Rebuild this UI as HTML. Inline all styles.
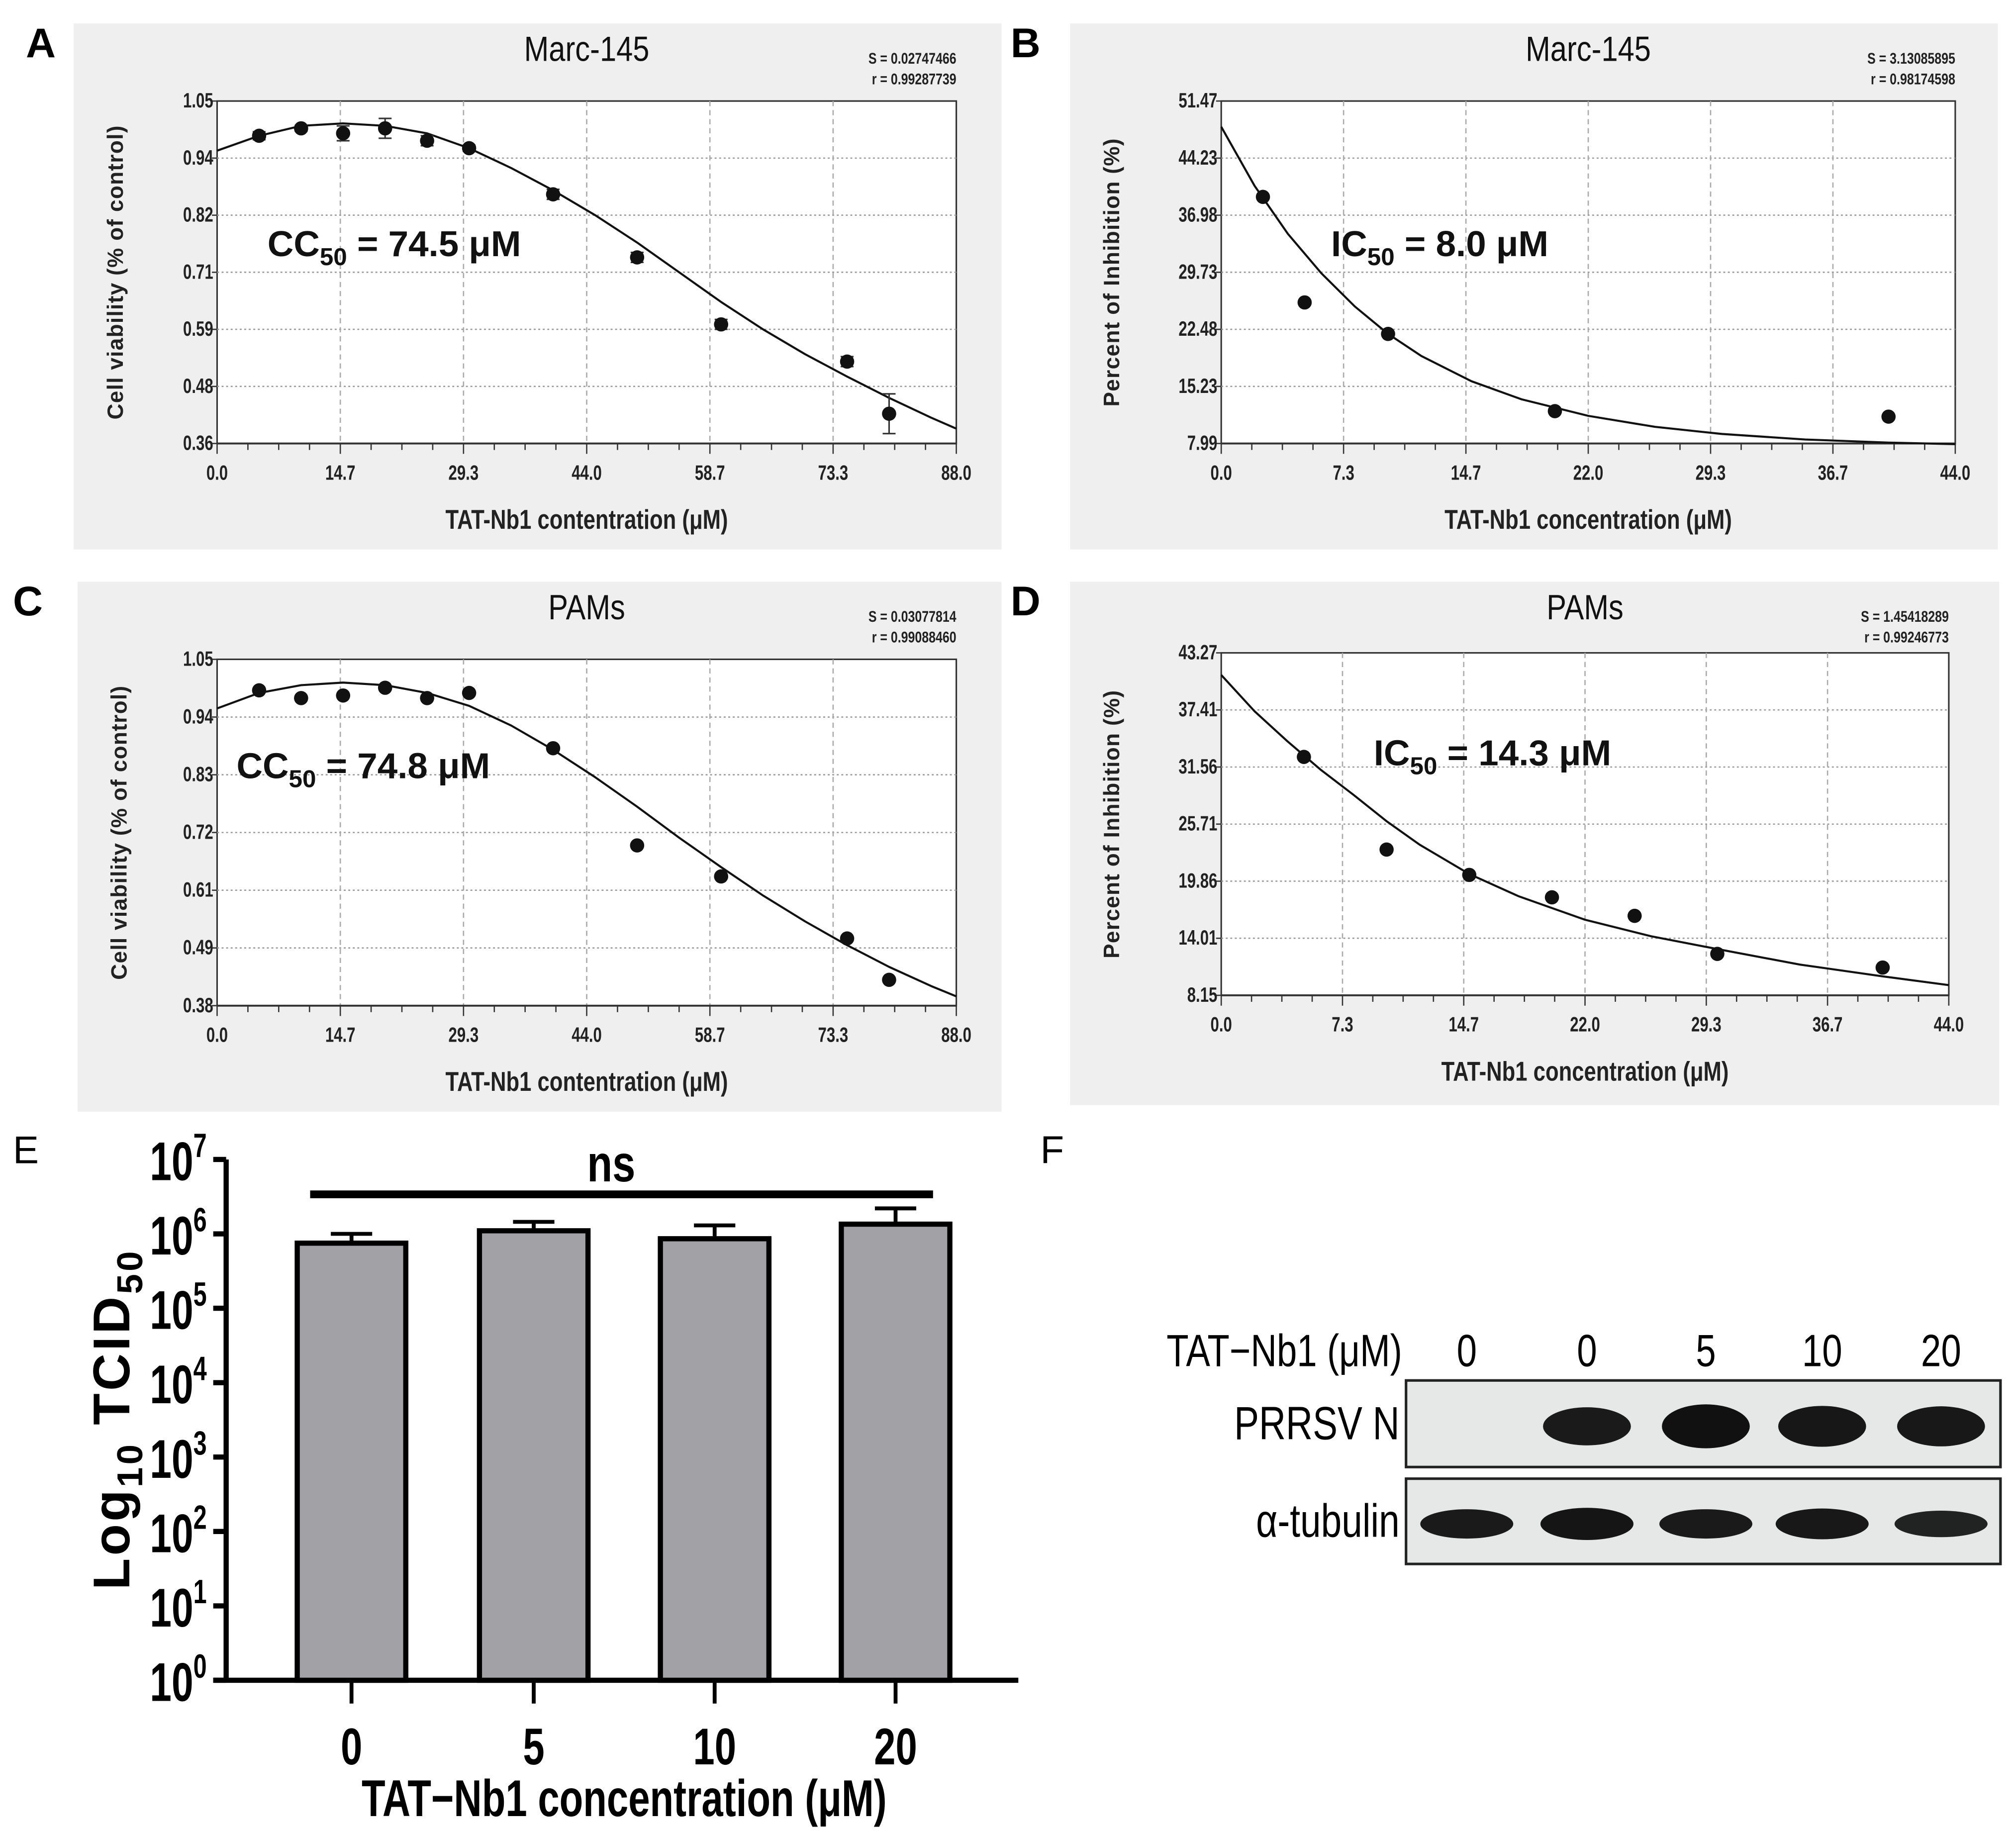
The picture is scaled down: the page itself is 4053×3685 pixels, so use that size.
<!DOCTYPE html>
<html><head><meta charset="utf-8"><style>
html,body{margin:0;padding:0;background:#fff;}
svg{display:block;font-family:"Liberation Sans",sans-serif;}
</style></head><body>
<svg id="fig" width="4053" height="3685" viewBox="0 0 1560 1418" xmlns="http://www.w3.org/2000/svg">
<g id="root"></g>
</svg>
<script>
// ---- Panel A data ----
const aX = [5,10,15,20,25,30,40,50,60,75,80];
const aY = [0.98,0.995,0.985,0.995,0.97,0.955,0.862,0.735,0.60,0.525,0.42];
const aErr = [0.008,0.006,0.015,0.02,0.01,0.006,0.01,0.01,0.01,0.01,0.04];
const aCurveX = [0,5,10,15,20,25,30,35,40,45,50,55,60,65,70,75,80,85,88];
const aCurveY = [0.95,0.98,1.0,1.005,1.0,0.985,0.955,0.915,0.87,0.82,0.765,0.705,0.645,0.59,0.54,0.495,0.452,0.412,0.39];
const aYTicks = ["0.36","0.48","0.59","0.71","0.82","0.94","1.05"];
const aXTicks = ["0.0","14.7","29.3","44.0","58.7","73.3","88.0"];
// ---- Panel B data ----
const bX = [2.5,5,10,20,40];
const bY = [39.3,25.9,21.9,12.1,11.4];
const bCurveX = [0,2,4,6,8,10,12,15,18,22,26,30,35,40,44];
const bCurveY = [48.2,40.7,34.6,29.6,25.4,21.9,19.1,15.9,13.6,11.5,10.1,9.2,8.5,8.1,7.9];
const bYTicks = ["7.99","15.23","22.48","29.73","36.98","44.23","51.47"];
const bXTicks = ["0.0","7.3","14.7","22.0","29.3","36.7","44.0"];
// ---- Panel C data ----
const cX = [5,10,15,20,25,30,40,50,60,75,80];
const cY = [0.99,0.975,0.98,0.995,0.975,0.985,0.878,0.69,0.63,0.51,0.43];
const cCurveX = [0,5,10,15,20,25,30,35,40,45,50,55,60,65,70,75,80,85,88];
const cCurveY = [0.955,0.985,1.0,1.005,1.0,0.985,0.96,0.922,0.875,0.822,0.765,0.705,0.648,0.593,0.543,0.497,0.455,0.418,0.398];
const cYTicks = ["0.38","0.49","0.61","0.72","0.83","0.94","1.05"];
const cXTicks = ["0.0","14.7","29.3","44.0","58.7","73.3","88.0"];
// ---- Panel D data ----
const dX = [5,10,15,20,25,30,40];
const dY = [32.6,23.1,20.5,18.2,16.3,12.4,11.0];
const dCurveX = [0,2,4,6,8,10,12,15,18,22,26,30,35,40,44];
const dCurveY = [41.0,37.3,34.2,31.3,28.7,26.0,23.6,20.6,18.3,15.9,14.2,12.9,11.3,10.1,9.2];
const dYTicks = ["8.15","14.01","19.86","25.71","31.56","37.41","43.27"];
const dXTicks = ["0.0","7.3","14.7","22.0","29.3","36.7","44.0"];
// ---- Panel E data ----
const eCats = ["0","5","10","20"];
const eVals = [7.5e5,1.1e6,8.6e5,1.35e6];
const eErrTop = [1.0e6,1.45e6,1.3e6,2.2e6];
const eYTicks = [0,1,2,3,4,5,6,7];
// ---- Panel F data ----
const fLanes = ["0","0","5","10","20"];
const fNBand = [0,0.85,1,0.92,0.9];
const fTubBand = [0.85,0.95,0.85,0.9,0.75];

const NS="http://www.w3.org/2000/svg";
const root=document.getElementById('root');
function mk(tag,attrs,parent,text){const e=document.createElementNS(NS,tag);for(const k in attrs)e.setAttribute(k,attrs[k]);if(text!==undefined)e.textContent=text;(parent||root).appendChild(e);return e;}
function nt(parent,x,y,str,attrs,sx){const a=Object.assign({},attrs||{});a.x=0;a.y=0;a.transform=`translate(${x},${y}) scale(${sx||0.8},1)`;return mk('text',a,parent,str);}

function panel(o){
  const g=mk('g',{});
  
  
  const bg=mk('rect',{x:o.bg[0],y:o.bg[1],width:o.bg[2],height:o.bg[3],fill:'#efefef'},g);
  
  
  const L=o.plot[0],T=o.plot[1],R=o.plot[2],B=o.plot[3];
  const ymin=parseFloat(o.yt[0]),ymax=parseFloat(o.yt[o.yt.length-1]);
  const xmin=parseFloat(o.xt[0]),xmax=parseFloat(o.xt[o.xt.length-1]);
  const sx=v=>L+(v-xmin)/(xmax-xmin)*(R-L);
  const sy=v=>B-(v-ymin)/(ymax-ymin)*(B-T);
  mk('rect',{x:L,y:T,width:R-L,height:B-T,fill:'#fff',stroke:'#333','stroke-width':1.2},g);
  o.yt.forEach((t,i)=>{const y=B-i*(B-T)/(o.yt.length-1);
    if(i>0&&i<o.yt.length-1)mk('line',{x1:L,x2:R,y1:y,y2:y,stroke:'#999','stroke-width':1,'stroke-dasharray':'1.5,2'},g);
    mk('line',{x1:L-4,x2:L,y1:y,y2:y,stroke:'#333'},g);
    const tl=nt(g,L-3,y+5,t,{'text-anchor':'end','font-size':16,'font-weight':'bold',fill:'#222'},0.75);
    
    
  });
  o.xt.forEach((t,i)=>{const x=L+i*(R-L)/(o.xt.length-1);
    if(i>0&&i<o.xt.length-1)mk('line',{x1:x,x2:x,y1:T,y2:B,stroke:'#aaa','stroke-width':1,'stroke-dasharray':'4,3'},g);
    const tl=nt(g,x,B+28,t,{'text-anchor':'middle','font-size':16,'font-weight':'bold',fill:'#222'},0.75);
    
    
  });
  const nMinor=(o.xt.length-1)*4;
  for(let i=0;i<=nMinor;i++){const x=L+i*(R-L)/nMinor;mk('line',{x1:x,x2:x,y1:B,y2:B+(i%4==0?8:5),stroke:'#333'},g);}
  mk('line',{x1:L,x2:R,y1:B,y2:B,stroke:'#333','stroke-width':1.5},g);
  let d='';o.cx.forEach((v,i)=>{d+=(i?'L':'M')+sx(v).toFixed(1)+','+sy(o.cy[i]).toFixed(1);});
  const c=mk('path',{d:d,fill:'none',stroke:'#111','stroke-width':1.6,'stroke-linejoin':'round'},g);
  
  
  o.px.forEach((v,i)=>{
    if(o.err){const e=o.err[i];const x=sx(v);
      mk('line',{x1:x,x2:x,y1:sy(o.py[i]+e),y2:sy(o.py[i]-e),stroke:'#333','stroke-width':1.2},g);
      mk('line',{x1:x-5,x2:x+5,y1:sy(o.py[i]+e),y2:sy(o.py[i]+e),stroke:'#333','stroke-width':1.2},g);
      mk('line',{x1:x-5,x2:x+5,y1:sy(o.py[i]-e),y2:sy(o.py[i]-e),stroke:'#333','stroke-width':1.2},g);}
    const p=mk('circle',{cx:sx(v),cy:sy(o.py[i]),r:5.5,fill:'#111'},g);
    
    
  });
  const ti=nt(g,(L+R)/2,o.bg[1]+29,o.title,{'text-anchor':'middle','font-size':27,fill:'#111'},0.85);
  
  
  const s1=nt(g,R,o.bg[1]+31,o.s,{'text-anchor':'end','font-size':12,'font-weight':'bold',fill:'#222'},0.8);
  
  
  const s2=nt(g,R,o.bg[1]+47,o.r,{'text-anchor':'end','font-size':12,'font-weight':'bold',fill:'#222'},0.8);
  
  
  const yl=mk('text',{x:0,y:0,transform:`translate(${o.bg[0]+38},${(T+B)/2}) rotate(-90)`,'text-anchor':'middle','font-size':17,'font-weight':'bold',fill:'#222','letter-spacing':0.5},g,o.ylab);
  
  
  const xl=nt(g,(L+R)/2,B+66,o.xlab,{'text-anchor':'middle','font-size':21,'font-weight':'bold',fill:'#222'},0.8);
  
  
  const an=mk('text',{x:o.ann[0],y:o.ann[1],'font-size':28,'font-weight':'bold',fill:'#111'},g);
  
  
  mk('tspan',{},an,o.ann[2]);mk('tspan',{dy:7,'font-size':19},an,'50');mk('tspan',{dy:-7},an,o.ann[3]);
  const lt=mk('text',{x:o.letter[0],y:o.letter[1],'font-size':32,'font-weight':'bold',fill:'#000'},g,o.letter[2]);
  
  
}
panel({name:'panel-a',bg:[57,18,718,407],plot:[168,78,740,343],yt:aYTicks,xt:aXTicks,px:aX,py:aY,err:aErr,cx:aCurveX,cy:aCurveY,title:'Marc-145',s:'S = 0.02747466',r:'r = 0.99287739',ylab:'Cell viability (% of control)',xlab:'TAT-Nb1 contentration (μM)',ann:[207,198,'CC',' = 74.5 μM'],letter:[20,44,'A']});
panel({name:'panel-b',bg:[828,18,718,407],plot:[945,78,1513,343],yt:bYTicks,xt:bXTicks,px:bX,py:bY,cx:bCurveX,cy:bCurveY,title:'Marc-145',s:'S = 3.13085895',r:'r = 0.98174598',ylab:'Percent of Inhibition (%)',xlab:'TAT-Nb1 concentration (μM)',ann:[1030,198,'IC',' = 8.0 μM'],letter:[782,44,'B']});
panel({name:'panel-c',bg:[60,450,715,410],plot:[168,510,740,778],yt:cYTicks,xt:cXTicks,px:cX,py:cY,cx:cCurveX,cy:cCurveY,title:'PAMs',s:'S = 0.03077814',r:'r = 0.99088460',ylab:'Cell viability (% of control)',xlab:'TAT-Nb1 contentration (μM)',ann:[183,602,'CC',' = 74.8 μM'],letter:[10,476,'C']});
panel({name:'panel-d',bg:[828,450,719,405],plot:[945,505,1508,770],yt:dYTicks,xt:dXTicks,px:dX,py:dY,cx:dCurveX,cy:dCurveY,title:'PAMs',s:'S = 1.45418289',r:'r = 0.99246773',ylab:'Percent of Inhibition (%)',xlab:'TAT-Nb1 concentration (μM)',ann:[1063,592,'IC',' = 14.3 μM'],letter:[782,476,'D']});

// ---- Panel E ----
(function(){
  const g=mk('g',{});
  
  
  const Y0=1300,Y7=897,AX=175;
  const sy=v=>Y0-Math.log10(v)/7*(Y0-Y7);
  const sl=k=>Y0-k/7*(Y0-Y7);
  const centers=[272,413,553,693];
  mk('text',{x:10,y:900,'font-size':30,fill:'#000'},g,'E');
  mk('line',{x1:AX,x2:AX,y1:Y7,y2:Y0,stroke:'#000','stroke-width':4},g);
  mk('line',{x1:165,x2:788,y1:Y0,y2:Y0,stroke:'#000','stroke-width':4},g);
  eYTicks.forEach(k=>{const y=sl(k);
    mk('line',{x1:165,x2:AX,y1:y,y2:y,stroke:'#000','stroke-width':4},g);
    const t=nt(g,160,y+16,'',{'text-anchor':'end','font-size':42,'font-weight':'bold',fill:'#000'},0.72);
    
    
    mk('tspan',{},t,'10');mk('tspan',{dy:-18,'font-size':26},t,String(k));
  });
  eVals.forEach((v,i)=>{const x=centers[i],top=sy(v),et=sy(eErrTop[i]);
    mk('line',{x1:x,x2:x,y1:et,y2:top,stroke:'#000','stroke-width':3},g);
    mk('line',{x1:x-16,x2:x+16,y1:et,y2:et,stroke:'#000','stroke-width':3},g);
    const b=mk('rect',{x:x-42,y:top,width:84,height:Y0-top,fill:'#a2a1a6',stroke:'#000','stroke-width':4},g);
    
    
    mk('line',{x1:x,x2:x,y1:Y0,y2:Y0+18,stroke:'#000','stroke-width':3},g);
    const t=nt(g,x,1365,eCats[i],{'text-anchor':'middle','font-size':40,'font-weight':'bold',fill:'#000'},0.75);
    
    
  });
  mk('line',{x1:240,x2:722,y1:924,y2:924,stroke:'#000','stroke-width':6},g);
  const ns=nt(g,473,914,'ns',{'text-anchor':'middle','font-size':40,'font-weight':'bold',fill:'#000'},0.8);
  
  
  const yl=mk('text',{x:0,y:0,transform:'translate(100,1098) rotate(-90)','text-anchor':'middle','font-size':40,'font-weight':'bold',fill:'#000','letter-spacing':2},g);
  
  
  mk('tspan',{},yl,'Log');mk('tspan',{dy:10,'font-size':28},yl,'10');mk('tspan',{dy:-10},yl,' TCID');mk('tspan',{dy:10,'font-size':28},yl,'50');
  const xl=nt(g,483,1405,'TAT\u2212Nb1 concentration (μM)',{'text-anchor':'middle','font-size':40,'font-weight':'bold',fill:'#000'},0.75);
  
  
})();

// ---- Panel F ----
(function(){
  const g=mk('g',{});
  
  
  mk('text',{x:805,y:900,'font-size':30,fill:'#000'},g,'F');
  const lx=[1135,1228,1320,1410,1502];
  const h=nt(g,1085,1057,'TAT\u2212Nb1 (μM)',{'text-anchor':'end','font-size':35,fill:'#000'},0.8);
  
  
  fLanes.forEach((l,i)=>{const t=nt(g,lx[i],1057,l,{'text-anchor':'middle','font-size':35,fill:'#000'},0.8);
    
    });
  const rows=[{y:1068,h:67,lab:'PRRSV N',vals:fNBand,bh:30,bw:68},{y:1144,h:66,lab:'α-tubulin',vals:fTubBand,bh:22,bw:72}];
  rows.forEach(r=>{
    const box=mk('rect',{x:1088,y:r.y,width:460,height:r.h,fill:'#e6e8e7',stroke:'#222','stroke-width':2},g);
    
    
    const t=nt(g,1083,r.y+r.h/2+12,r.lab,{'text-anchor':'end','font-size':36,fill:'#000'},0.8);
    
    
    r.vals.forEach((v,i)=>{if(v<=0)return;
      const b=mk('ellipse',{cx:lx[i],cy:r.y+r.h/2+2,rx:r.bw/2,ry:r.bh/2*v+2,fill:'#111','fill-opacity':0.7+0.3*v},g);
      
      });
  });
})();
</script>
</body></html>
